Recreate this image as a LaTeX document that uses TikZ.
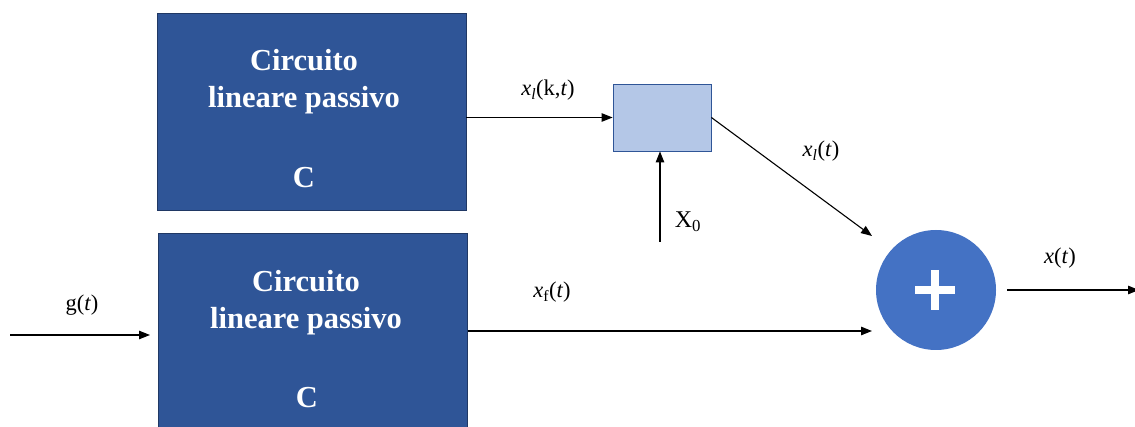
\documentclass[tikz,border=0pt]{standalone}
\usepackage{fontspec}
\setmainfont{Liberation Serif}
\usetikzlibrary{arrows.meta}
\definecolor{boxblue}{HTML}{2F5597}
\definecolor{boxedge}{HTML}{203864}
\definecolor{lightblue}{HTML}{B4C7E7}
\definecolor{sumblue}{HTML}{4472C4}
\tikzset{
  bigbox/.style={draw=boxedge, line width=0.8pt, fill=boxblue, minimum width=309pt, inner sep=0pt},
  boxtext/.style={text=white, font=\fontsize{30.5}{33}\selectfont\bfseries, inner sep=0pt},
  lbl/.style={font=\fontsize{22.5}{25}\selectfont, inner sep=0pt},
  conn/.style={line width=1.1pt, -{Triangle[length=11pt,width=8.5pt]}},
}
\begin{document}
\begin{tikzpicture}[x=1pt,y=-1pt]
\useasboundingbox (0,0) rectangle (1135,427);
\clip (0,0) rectangle (1135,427);
% top box
\node[bigbox, minimum height=197pt] (top) at (311.5,111.5) {};
\node[boxtext] (t1) at (304,60) {Circuito};
\node[boxtext] (t2) at (304,100) {lineare passivo};
\node[boxtext] (t3) at (304,178) {C};
% bottom box
\node[bigbox, minimum height=200pt] (bot) at (313,333) {};
\node[boxtext] (b1) at (306,281) {Circuito};
\node[boxtext] (b2) at (306,321) {lineare passivo};
\node[boxtext] (b3) at (307,398) {C};
% small box
\node[draw=boxblue, line width=0.8pt, fill=lightblue, minimum width=98pt, minimum height=67pt, inner sep=0pt] (sm) at (662,117.5) {};
% sum
\node[circle, fill=sumblue, minimum size=120pt, inner sep=0pt] (sum) at (936,290) {};
\draw[white, line width=7.5pt] (915,290) -- (955,290);
\draw[white, line width=7.5pt] (935,270) -- (935,310);
% coordinates
\coordinate (inS) at (10,335);
\coordinate (inE) at (150,335);
\coordinate (dEnd) at (872,236);
\coordinate (fEnd) at (872,331);
\coordinate (x0S) at (660,242);
\coordinate (oS) at (1007,290);
\coordinate (oE) at (1139,290);
% connectors
\draw[conn] (inS) -- (inE);
\draw[conn] (top.east |- sm.west) -- (sm.west);
\draw[conn] (sm.east) -- (dEnd);
\draw[conn] (x0S) -- (x0S |- sm.south);
\draw[conn] (bot.east |- fEnd) -- (fEnd);
\draw[conn] (oS) -- (oE);
% labels
\node[lbl] (lg) at (82,305) {g(\textit{t})};
\node[lbl] (lxk) at (548,90) {\textit{x}\textsubscript{\textit{l}}(k,\textit{t})};
\node[lbl] (lxl) at (821,151) {\textit{x}\textsubscript{\textit{l}}(\textit{t})};
\node[lbl, font=\fontsize{24}{26}\selectfont] (lx0) at (688,222) {X\textsubscript{0}};
\node[lbl] (lxf) at (552,292) {\textit{x}\textsubscript{f}(\textit{t})};
\node[lbl] (lx) at (1060,258) {\textit{x}(\textit{t})};
\end{tikzpicture}
\end{document}
